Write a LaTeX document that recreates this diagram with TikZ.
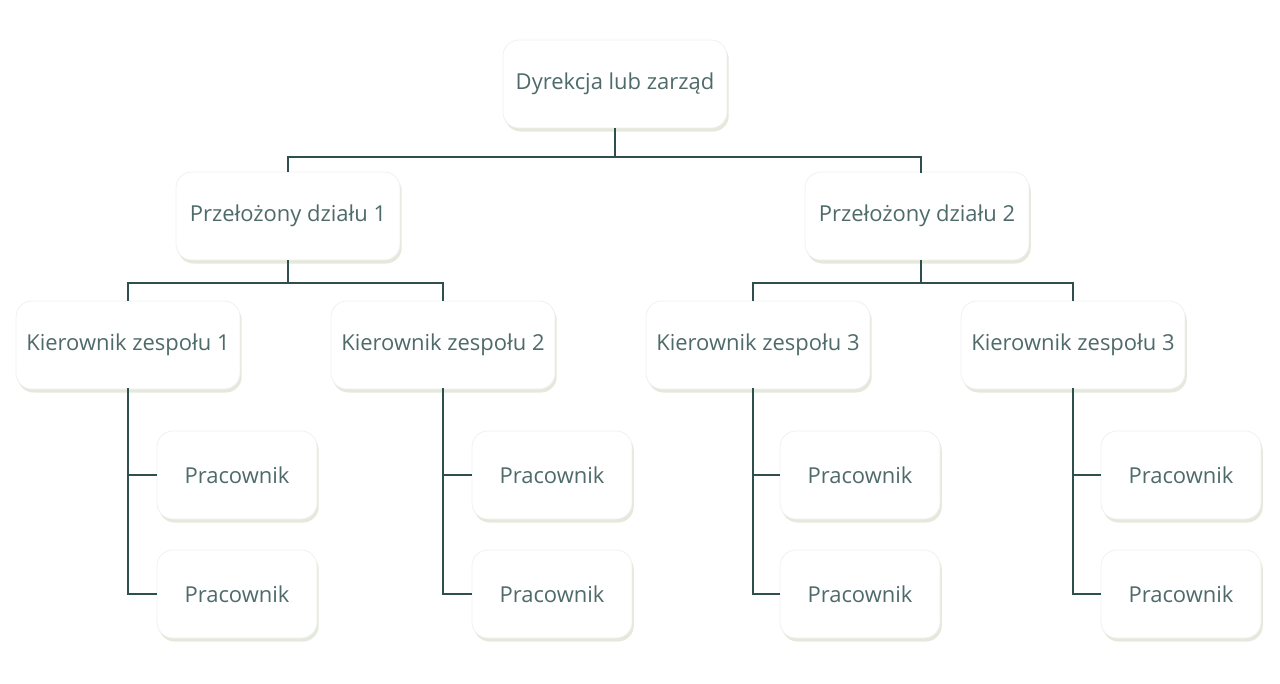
\documentclass[tikz,border=0pt]{standalone}
\usepackage{fontspec}
\setmainfont{Open Sans}
\usetikzlibrary{shadows}
\definecolor{tekst}{HTML}{4F6A6A}
\definecolor{linia}{HTML}{2F4F4F}
\definecolor{cien}{HTML}{D8E0CC}
\begin{document}
\begin{tikzpicture}[x=0.02cm,y=-0.02cm,
    box/.style={draw=black!6,fill=white,rounded corners=9pt,text=tekst,
      font=\fontsize{12.5}{15}\selectfont,inner sep=0pt,
      drop shadow={shadow xshift=1pt,shadow yshift=-2pt,fill=cien,opacity=0.7}},
    szef/.style={box,minimum width=4.48cm,minimum height=1.76cm},
    prac/.style={box,minimum width=3.2cm,minimum height=1.76cm},
    lin/.style={draw=linia,line width=0.9pt}]
    \useasboundingbox (0,0) rectangle (1280,683);

    % Zarzad
    \node[szef] (zarzad) at (615,84) {Dyrekcja lub zarząd};
    \node[szef] (dzial1) at (288,216) {Przełożony działu 1};
    \node[szef] (dzial2) at (917,216) {Przełożony działu 2};

    % Kierownicy
    \node[szef] (kier1) at (128,345) {Kierownik zespołu 1};
    \node[szef] (kier2) at (443,345) {Kierownik zespołu 2};
    \node[szef] (kier3) at (758,345) {Kierownik zespołu 3};
    \node[szef] (kier4) at (1073,345) {Kierownik zespołu 3};

    % Pracownicy
    \foreach \i/\x in {1/237,2/552,3/860,4/1181} {
        \node[prac] (pa\i) at (\x,475) {Pracownik};
        \node[prac] (pb\i) at (\x,594) {Pracownik};
    }

    % Polaczenia
    \coordinate (b0) at (615,157);
    \coordinate (b2) at (921,283);
    \draw[lin] (zarzad) -- (b0) -| (dzial1);
    \draw[lin] (b0) -| (921,173);
    \coordinate (b1) at (288,283);
    \draw[lin] (dzial1) -- (b1) -| (kier1);
    \draw[lin] (b1) -| (kier2);
    \draw[lin] (dzial2.south -| b2) -- (b2) -| (753,301);
    \draw[lin] (b2) -| (kier4);
    \foreach \i/\x in {1/128,2/443,3/753,4/1073} {
        \draw[lin] (\x,388) |- (pb\i.west);
        \draw[lin] (\x,475) -- (pa\i.west);
    }
\end{tikzpicture}
\end{document}
